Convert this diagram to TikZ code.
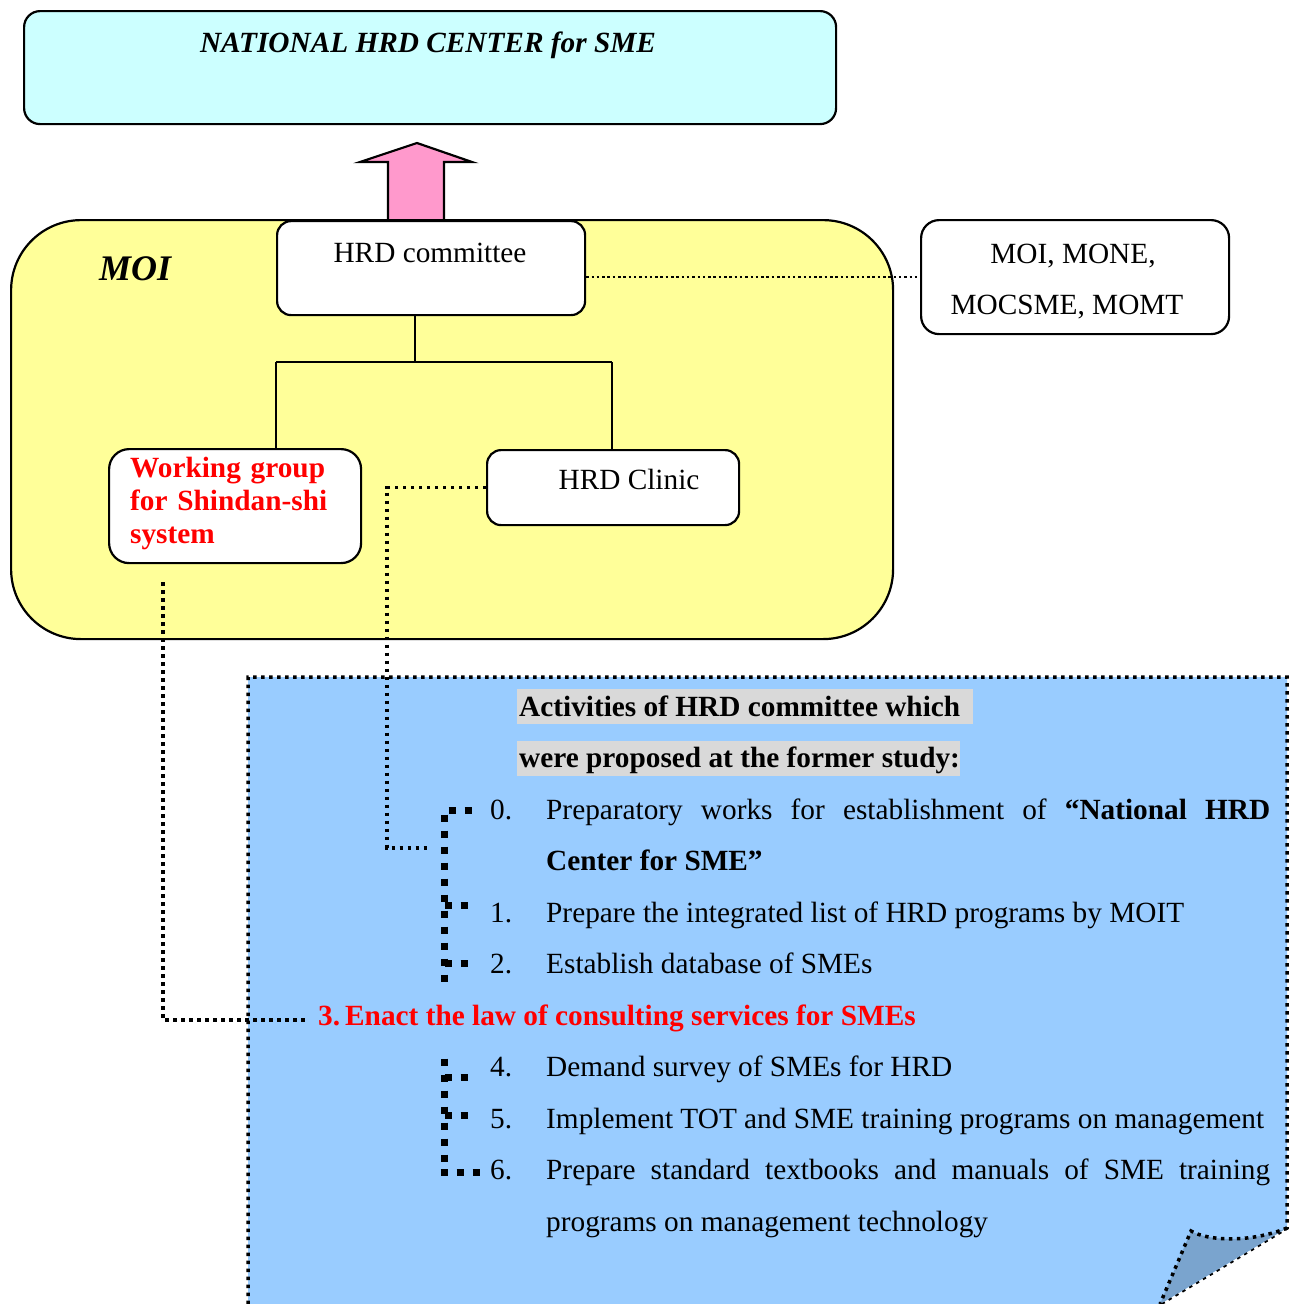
\documentclass[tikz,border=0pt]{standalone}
\usepackage{fontspec}
\setmainfont{Liberation Serif}
\definecolor{centercyan}{HTML}{CCFFFF}
\definecolor{moiyellow}{HTML}{FFFF99}
\definecolor{arrowpink}{HTML}{FF99CC}
\definecolor{noteblue}{HTML}{99CCFF}
\definecolor{foldblue}{RGB}{122,164,206}
\definecolor{headgray}{HTML}{D9D9D9}
\definecolor{alertred}{HTML}{FF0000}
\begin{document}
\begin{tikzpicture}[x=1pt,y=-1pt,
  boxline/.style={draw=black,line width=2.2pt},
  panel/.style={boxline,rounded corners=#1,inner sep=0pt,anchor=north west},
  panel/.default=14pt,
  txt/.style={inner sep=0pt,font=\fontsize{29.3}{51.5}\selectfont},
  fine dots/.style={line width=2.5pt,dash pattern=on 2.5pt off 2.8pt},
  thin dots/.style={line width=3.5pt,dash pattern=on 3.5pt off 4.5pt},
  heavy dots/.style={line width=7pt,dash pattern=on 7pt off 9pt},
]
\useasboundingbox (0,0) rectangle (1298,1304);

% national centre
\node[panel=16pt,fill=centercyan,minimum width=812pt,minimum height=113pt] (center) at (23,10) {};
\node[txt,anchor=base] (centertitle) at (428,52.5) {\bfseries\itshape NATIONAL HRD CENTER for SME};

% upward arrow from the committee
\draw[boxline,fill=arrowpink,line join=miter]
  (388,219) -- (388,162) -- (360,162) -- (417,143) -- (472,162) -- (444,162) -- (444,219);

% ministry frame
\node[panel=70pt,fill=moiyellow,minimum width=882pt,minimum height=419pt] (moi) at (10,219) {};
\node[txt,anchor=base west,font=\fontsize{36}{40}\selectfont] (moititle) at (99,280) {\bfseries\itshape MOI};

% committee and its units
\node[panel,fill=white,minimum width=308pt,minimum height=94pt] (hrd) at (276,220) {};
\node[txt,anchor=base] (hrdtext) at (430,262.5) {HRD committee};

\node[panel=20pt,fill=white,minimum width=252pt,minimum height=114pt] (wg) at (108,448) {};
\node[txt,anchor=base west,text width=230pt,align=left,font=\fontsize{29.3}{33}\selectfont,text=alertred] (wgtext) at (130,477)
  {\bfseries Working group\\for Shindan-shi\\system};

\node[panel,fill=white,minimum width=252pt,minimum height=75pt] (clinic) at (486,449) {};
\node[txt,anchor=base] (clinictext) at (629,489.5) {HRD Clinic};

\node[panel=18pt,fill=white,minimum width=308pt,minimum height=114pt] (members) at (920,219) {};
\node[txt,anchor=base] (members1) at (1073,263.5) {MOI, MONE,};
\node[txt,anchor=base] (members2) at (1067,314.5) {MOCSME, MOMT};

% tree lines
\coordinate (fork) at (415,362);
\coordinate (leftdrop) at (276,362);
\coordinate (rightdrop) at (612,362);
\draw[boxline] (hrd.south -| fork) -- (fork);
\draw[boxline] (leftdrop) -- (rightdrop);
\draw[boxline] (leftdrop) -- (wg.north -| leftdrop);
\draw[boxline] (rightdrop) -- (clinic.north -| rightdrop);

\draw[fine dots] (members.west -| hrd.east) -- (members.west);

% activity sheet with turned corner
\fill[noteblue] (248,677) -- (1287,677) -- (1287,1228) -- (1147,1312) -- (248,1312) -- cycle;
\draw[thin dots] (248,1312) -- (248,677) -- (1287,677) -- (1287,1228) -- (1147,1312);
\draw[thin dots,fill=foldblue]
  (1287,1228) .. controls (1250,1243) and (1208,1241) .. (1191,1231) -- (1160,1304);

% highlighted heading
\fill[headgray] (517,689) rectangle (973,724);
\fill[headgray] (517,741) rectangle (960,776);
\node[txt,anchor=base west] (head1) at (519,716) {\bfseries Activities of HRD committee which};
\node[txt,anchor=base west] (head2) at (519,767.5) {\bfseries were proposed at the former study:};

% list of activities
\node[txt,anchor=base west] (n0) at (490,819) {0.};
\node[txt,anchor=base west,text width=724pt,align=justify] (t0) at (546,819)
  {Preparatory works for establishment of \textbf{“National HRD\linebreak Center for SME”}};
\node[txt,anchor=base west] (n1) at (490,922) {1.};
\node[txt,anchor=base west] (t1) at (546,922) {Prepare the integrated list of HRD programs by MOIT};
\node[txt,anchor=base west] (n2) at (490,973.5) {2.};
\node[txt,anchor=base west] (t2) at (546,973.5) {Establish database of SMEs};
\node[txt,anchor=base west,text=alertred] (n3) at (318,1025) {\bfseries 3.};
\node[txt,anchor=base west,text=alertred] (t3) at (345,1025) {\bfseries Enact the law of consulting services for SMEs};
\node[txt,anchor=base west] (n4) at (490,1076.5) {4.};
\node[txt,anchor=base west] (t4) at (546,1076.5) {Demand survey of SMEs for HRD};
\node[txt,anchor=base west] (n5) at (490,1128) {5.};
\node[txt,anchor=base west] (t5) at (546,1128) {Implement TOT and SME training programs on management};
\node[txt,anchor=base west] (n6) at (490,1179.5) {6.};
\node[txt,anchor=base west,text width=724pt,align=justify] (t6) at (546,1179.5)
  {Prepare standard textbooks and manuals of SME training\linebreak programs on management technology};

% heavy dotted brackets
\draw[heavy dots] (444,814.5) -- (444,985);
\draw[heavy dots] (448.5,810) -- (472,810);
\draw[heavy dots] (444.5,905) -- (470,905);
\draw[heavy dots] (444.5,963) -- (470,963);
\draw[heavy dots] (444,1058.5) -- (444,1176);
\draw[heavy dots] (444.5,1077) -- (470,1077);
\draw[heavy dots] (444.5,1115) -- (470,1115);
\draw[heavy dots] (440.5,1172) -- (481,1172);

% links from the units to the activities
\coordinate (elbow0) at (387,848);
\coordinate (item0link) at (428,848);
\coordinate (wgdrop) at (163,562);
\coordinate (item3link) at (305,1020);
\draw[thin dots] (clinic.west) -| (elbow0) -- (item0link);
\draw[thin dots,shorten <=18pt] (wg.south -| wgdrop) |- (item3link);
\end{tikzpicture}
\end{document}
